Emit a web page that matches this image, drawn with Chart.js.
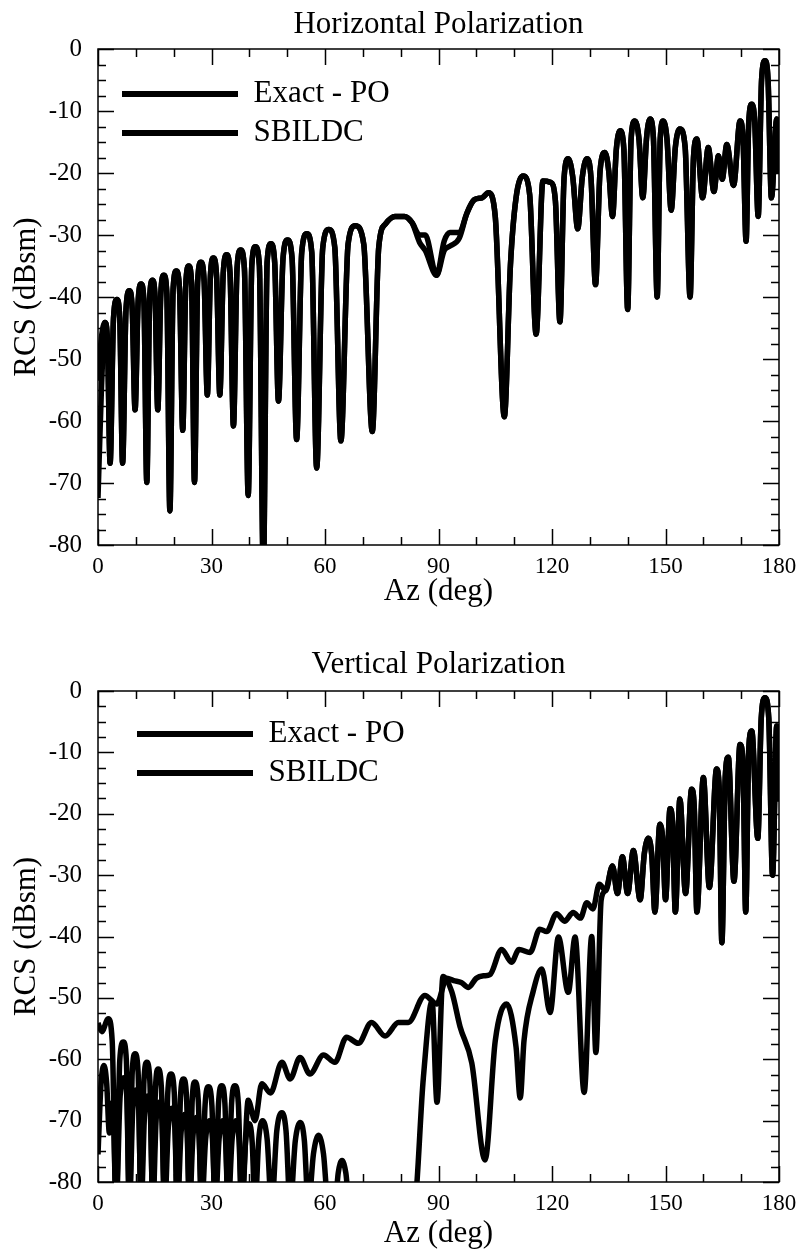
<!DOCTYPE html>
<html>
<head>
<meta charset="utf-8">
<title>RCS vs Az</title>
<script src="https://cdn.jsdelivr.net/npm/chart.js@4.4.1/dist/chart.umd.min.js"></script>
<style>
  html, body { margin: 0; padding: 0; background: #fff; }
  #wrap { position: relative; width: 800px; height: 1251px; }
  canvas { position: absolute; left: 0; }
</style>
</head>
<body>
<div id="wrap">
  <canvas id="hChart" width="800" height="620" style="top:0px"></canvas>
  <canvas id="vChart" width="800" height="612" style="top:640px"></canvas>
</div>
<script>
// ---- Horizontal polarization (both curves share the azimuth samples) ----
const hAz = [
  0, 0.9, 1.85, 2.5, 3.2, 4.1, 5.0, 5.75, 6.5, 7.4,
  8.3, 9.05, 9.8, 10.6, 11.4, 12.15, 12.9, 13.65, 14.4, 15.1,
  15.8, 16.6, 17.4, 18.2, 19.0, 19.85, 20.7, 21.55, 22.4, 23.2,
  24.0, 24.75, 25.5, 26.35, 27.2, 28.05, 28.9, 29.7, 30.5, 31.35,
  32.2, 33.1, 34.0, 34.9, 35.8, 36.75, 37.7, 38.7, 39.7, 40.65,
  41.6, 42.65, 43.7, 44.7, 45.7, 46.7, 47.7, 48.9, 50.1, 51.3,
  52.5, 53.85, 55.2, 56.5, 57.8, 59.4, 61.0, 62.6, 64.2, 66.1,
  68.0, 70.25, 72.5, 74.2, 76.0, 78.5, 81.0, 83.0, 85.0, 86.5,
  89.5, 91.5, 93.0, 95.5, 97.5, 99.5, 101.5, 103.2, 105.0, 107.4,
  109.0, 110.5, 112.4, 114.1, 115.8, 117.6, 119.6, 120.9, 122.1, 123.2,
  124.3, 125.5, 126.8, 128.0, 129.2, 130.3, 131.5, 132.7, 134.0, 135.0,
  136.0, 137.0, 138.0, 139.0, 140.0, 140.9, 141.9, 143.0, 144.0, 145.0,
  145.9, 146.8, 147.8, 148.6, 149.4, 150.4, 151.5, 152.6, 153.8, 155.2,
  156.5, 157.4, 158.3, 159.8, 161.3, 162.8, 164.0, 165.0, 166.2, 168.0,
  169.7, 170.5, 171.3, 172.0, 172.8, 173.6, 174.5, 175.4, 176.3, 177.1,
  178.0, 179.4, 180
];
const hExact = [
  -72.4, -55, -44.1, -47.0, -66.8, -43.4, -40.4, -43.4, -66.8, -42.0,
  -39.0, -42.0, -58.2, -40.9, -37.9, -40.9, -69.9, -40.3, -37.3, -40.3,
  -58.2, -39.5, -36.5, -39.5, -74.5, -38.8, -35.8, -38.8, -61.5, -38.0,
  -35.0, -38.0, -69.9, -37.4, -34.4, -37.4, -55.8, -36.7, -33.7, -36.7,
  -55.8, -36.2, -33.2, -36.2, -60.8, -35.4, -32.4, -35.4, -72.0, -34.9,
  -31.9, -34.9, -84, -34.4, -31.4, -34.4, -56.8, -33.8, -30.8, -33.8,
  -63.0, -32.8, -29.8, -32.8, -67.6, -32.1, -29.1, -32.1, -63.2, -31.5,
  -28.5, -31.5, -61.7, -32.0, -28.2, -27.0, -27.0, -28.0, -30.0, -30.0,
  -36.5, -31.0, -29.6, -29.6, -26.5, -24.3, -24.0, -23.2, -27.0, -59.3,
  -35.0, -24.0, -20.5, -23.5, -46.0, -21.3, -21.5, -24.5, -44.0, -20.7,
  -17.7, -20.7, -29.0, -20.7, -17.7, -20.7, -38.0, -19.7, -16.7, -19.7,
  -27.0, -16.2, -13.2, -16.2, -42.0, -14.6, -11.6, -14.6, -24.0, -14.3,
  -11.3, -14.3, -40.0, -14.6, -11.6, -14.6, -26.0, -15.9, -12.9, -15.9,
  -40.0, -17.5, -14.5, -24.0, -15.9, -23.0, -17.2, -21.0, -15.4, -22.0,
  -11.6, -14.6, -31.0, -11.9, -8.9, -11.9, -27.0, -4.9, -1.9, -4.9,
  -24.0, -11.3, -20.0
];
const hSbildc = [
  -53.5, -46.5, -44.1, -47.0, -66.8, -43.4, -40.4, -43.4, -66.8, -42.0,
  -39.0, -42.0, -58.2, -40.9, -37.9, -40.9, -69.9, -40.3, -37.3, -40.3,
  -58.2, -39.5, -36.5, -39.5, -74.5, -38.8, -35.8, -38.8, -61.5, -38.0,
  -35.0, -38.0, -69.9, -37.4, -34.4, -37.4, -55.8, -36.7, -33.7, -36.7,
  -55.8, -36.2, -33.2, -36.2, -60.8, -35.4, -32.4, -35.4, -72.0, -34.9,
  -31.9, -34.9, -84, -34.4, -31.4, -34.4, -56.8, -33.8, -30.8, -33.8,
  -63.0, -32.8, -29.8, -32.8, -67.6, -32.1, -29.1, -32.1, -63.2, -31.5,
  -28.5, -31.5, -61.7, -32.0, -28.2, -27.0, -27.0, -28.0, -31.2, -32.5,
  -36.5, -32.5, -31.8, -30.5, -26.5, -24.3, -24.0, -23.2, -27.0, -59.3,
  -35.0, -24.0, -20.5, -23.5, -46.0, -21.3, -21.5, -24.5, -44.0, -20.7,
  -17.7, -20.7, -29.0, -20.7, -17.7, -20.7, -38.0, -19.7, -16.7, -19.7,
  -27.0, -16.2, -13.2, -16.2, -42.0, -14.6, -11.6, -14.6, -24.0, -14.3,
  -11.3, -14.3, -40.0, -14.6, -11.6, -14.6, -26.0, -15.9, -12.9, -15.9,
  -40.0, -17.5, -14.5, -24.0, -15.9, -23.0, -17.2, -21.0, -15.4, -22.0,
  -11.6, -14.6, -31.0, -11.9, -8.9, -11.9, -27.0, -4.9, -1.9, -4.9,
  -24.0, -11.3, -20.0
];

// ---- Vertical polarization ----
const vAzExact = [
  0, 0.8, 1.6, 2.3, 3.0, 3.9, 4.8, 5.85, 6.9, 7.6,
  8.3, 9.2, 10.1, 10.75, 11.4, 12.3, 13.2, 13.85, 14.5, 15.35,
  16.2, 16.9, 17.6, 18.6, 19.6, 20.3, 21.0, 21.95, 22.9, 23.55,
  24.2, 25.1, 26.0, 26.7, 27.4, 28.45, 29.5, 30.25, 31.0, 32.0,
  33.0, 33.7, 34.4, 35.45, 36.5, 37.25, 38.0, 39.0, 40.0, 40.75,
  41.5, 42.5, 43.5, 44.7, 45.9, 47.25, 48.6, 49.7, 50.8, 52.15,
  53.5, 54.55, 55.6, 56.95, 58.3, 59.6, 60.9, 62.6, 63.5, 64.5,
  65.5, 66.5, 83.5, 86.0, 88.3, 89.6, 91.2, 93.5, 95.7, 98.8,
  102.3, 105.0, 108.0, 110.5, 111.6, 112.6, 115.0, 117.3, 119.5, 121.7,
  124.3, 126.1, 128.5, 130.5, 131.6, 133.0, 134.2, 136.0, 137.3, 138.6,
  140.0, 141.5, 143.3, 144.4, 145.5, 146.4, 147.2, 148.5, 149.3, 150.0,
  151.2, 151.9, 152.6, 153.8, 155.3, 156.9, 157.6, 158.3, 160.0, 161.6,
  163.5, 164.2, 164.9, 165.8, 166.6, 168.1, 169.7, 170.5, 171.2, 172.0,
  172.8, 174.4, 175.3, 176.3, 177.3, 178.3, 179.4, 180
];
const vExact = [
  -75.5, -64.0, -61.0, -64.0, -72.0, -67.0, -84, -66.0, -63.0, -66.0,
  -84, -68.0, -65.0, -68.0, -84, -69.0, -66.0, -69.0, -84, -70.0,
  -67.0, -70.0, -84, -71.0, -68.0, -71.0, -84, -72.0, -69.0, -72.0,
  -84, -72.5, -69.5, -72.5, -84, -73.0, -70.0, -73.0, -84, -73.0,
  -70.0, -73.0, -84, -73.0, -70.0, -73.0, -84, -73.5, -70.5, -73.5,
  -84, -73.0, -70.0, -73.0, -84, -71.7, -68.7, -71.7, -84, -73.3,
  -70.3, -73.3, -84, -75.4, -72.4, -75.4, -84, -84, -78.5, -76.5,
  -78.5, -84, -84, -63.0, -50.5, -67.0, -46.5, -49.0, -54.7, -60.6,
  -76.4, -57.0, -51.0, -58.0, -66.3, -57.0, -49.0, -45.3, -52.4, -40.1,
  -49.1, -40.1, -65.4, -40.0, -58.9, -34.0, -32.5, -28.5, -33.0, -27.0,
  -33.0, -26.0, -34.0, -26.5, -24.0, -27.0, -36.0, -21.7, -24.5, -34.0,
  -19.2, -22.0, -36.0, -17.6, -33.0, -16.0, -19.0, -36.0, -14.1, -32.0,
  -12.7, -16.0, -41.0, -14.0, -10.8, -31.0, -8.7, -12.0, -36.0, -9.5,
  -6.5, -24.0, -4.5, -1.1, -4.5, -30.0, -5.7, -18.0
];
const vAzSbildc = [
  0, 1.0, 2.7, 3.75, 4.8, 5.75, 6.7, 7.5, 8.3, 9.05,
  9.8, 10.6, 11.4, 12.15, 12.9, 13.7, 14.5, 15.2, 15.9, 16.75,
  17.6, 18.45, 19.3, 20.15, 21.0, 21.8, 22.6, 23.4, 24.2, 24.9,
  25.6, 26.5, 27.4, 28.3, 29.2, 30.1, 31.0, 31.85, 32.7, 33.55,
  34.4, 35.3, 36.2, 37.1, 38.0, 39.7, 41.5, 43.3, 45.6, 48.6,
  50.8, 53.4, 56.0, 59.6, 62.6, 65.7, 68.8, 72.3, 75.9, 79.4,
  82.0, 86.4, 89.5, 92.2, 94.0, 96.0, 97.9, 100.0, 101.9, 103.6,
  106.7, 109.3, 111.3, 114.2, 116.8, 118.6, 121.2, 123.3, 125.6, 127.5,
  129.2, 130.8, 132.5, 134.2, 136.0, 137.3, 138.6, 140.0, 141.5, 143.3,
  144.4, 145.5, 146.4, 147.2, 148.5, 149.3, 150.0, 151.2, 151.9, 152.6,
  153.8, 155.3, 156.9, 157.6, 158.3, 160.0, 161.6, 163.5, 164.2, 164.9,
  165.8, 166.6, 168.1, 169.7, 170.5, 171.2, 172.0, 172.8, 174.4, 175.3,
  176.3, 177.3, 178.3, 179.4, 180
];
const vSbildc = [
  -54.1, -55.5, -53.4, -57.0, -84, -60.2, -57.2, -60.2, -84, -62.1,
  -59.1, -62.1, -84, -63.5, -60.5, -63.5, -84, -64.6, -61.6, -64.6,
  -84, -65.4, -62.4, -65.4, -84, -66.2, -63.2, -66.2, -84, -66.7,
  -63.7, -66.7, -84, -67.5, -64.5, -67.5, -84, -67.3, -64.3, -67.3,
  -84, -67.3, -64.3, -67.3, -84, -66.7, -70.0, -64.0, -65.5, -60.5,
  -63.2, -59.7, -62.4, -59.3, -60.5, -56.4, -57.4, -54.0, -56.2, -54.0,
  -54.0, -49.6, -51.0, -46.8, -47.2, -47.5, -48.3, -46.8, -46.4, -46.2,
  -42.1, -44.2, -42.1, -42.6, -38.8, -39.2, -36.3, -37.5, -36.1, -37.0,
  -34.5, -35.5, -31.5, -32.5, -28.5, -33.0, -27.0, -33.0, -26.0, -34.0,
  -26.5, -24.0, -27.0, -36.0, -21.7, -24.5, -34.0, -19.2, -22.0, -36.0,
  -17.6, -33.0, -16.0, -19.0, -36.0, -14.1, -32.0, -12.7, -16.0, -41.0,
  -14.0, -10.8, -31.0, -8.7, -12.0, -36.0, -9.5, -6.5, -24.0, -4.5,
  -1.1, -4.5, -30.0, -5.7, -18.0
];

const azTicks = [0, 30, 60, 90, 120, 150, 180];
const rcsTicks = [-80, -70, -60, -50, -40, -30, -20, -10, 0];

const SERIF = "'Liberation Serif', 'Times New Roman', serif";

function toPoints(xs, ys) {
  return xs.map((x, i) => ({ x: x, y: ys[i] }));
}

// frame + inward tick marks on all four sides
const frameTicks = {
  id: 'frameTicks',
  afterDatasetsDraw(chart) {
    const { ctx, chartArea: a, scales: { x, y } } = chart;
    ctx.save();
    ctx.strokeStyle = '#000';
    ctx.lineWidth = 1.5;
    ctx.strokeRect(a.left, a.top, a.right - a.left, a.bottom - a.top);
    ctx.beginPath();
    for (let v = 0; v <= 180; v += 10) {
      const px = Math.round(x.getPixelForValue(v)) + 0.5;
      const len = v % 30 === 0 ? 16 : 8;
      ctx.moveTo(px, a.bottom); ctx.lineTo(px, a.bottom - len);
      ctx.moveTo(px, a.top); ctx.lineTo(px, a.top + len);
    }
    for (let v = -80; v <= 0; v += 2.5) {
      const py = Math.round(y.getPixelForValue(v)) + 0.5;
      const len = v % 10 === 0 ? 16 : 8;
      ctx.moveTo(a.left, py); ctx.lineTo(a.left + len, py);
      ctx.moveTo(a.right, py); ctx.lineTo(a.right - len, py);
    }
    ctx.stroke();
    ctx.restore();
  }
};

// put the legend where it sits in the figure
const legendSpot = {
  id: 'legendSpot',
  afterLayout(chart, args, opts) {
    if (!chart.legend) return;
    chart.legend.left = opts.left;
    chart.legend.top = opts.top;
  }
};

function makeChart(id, title, series, layout) {
  const ctx = document.getElementById(id).getContext('2d');
  return new Chart(ctx, {
    type: 'line',
    data: {
      datasets: series.map(s => ({
        label: s.label,
        data: toPoints(s.az, s.db),
        borderColor: '#000',
        backgroundColor: '#000',
        borderWidth: 5.5,
        pointRadius: 0,
        fill: false,
        cubicInterpolationMode: 'monotone',
        borderJoinStyle: 'round',
        clip: 0
      }))
    },
    options: {
      responsive: false,
      animation: false,
      events: [],
      layout: { padding: { left: 0, right: 21, top: 0, bottom: 0 } },
      scales: {
        x: {
          type: 'linear',
          min: 0, max: 180,
          afterBuildTicks: s => { s.ticks = azTicks.map(v => ({ value: v })); },
          afterFit: s => { s.height = layout.xHeight; },
          grid: { display: false },
          border: { display: false },
          ticks: { color: '#000', font: { family: SERIF, size: 23 }, padding: 0, maxRotation: 0 },
          title: {
            display: true, text: 'Az (deg)', color: '#000',
            font: { family: SERIF, size: 31 },
            padding: { top: 0, bottom: layout.xTitlePad }
          }
        },
        y: {
          type: 'linear',
          min: -80, max: 0,
          afterBuildTicks: s => { s.ticks = rcsTicks.map(v => ({ value: v })); },
          afterFit: s => { s.width = 98; },
          grid: { display: false },
          border: { display: false },
          ticks: { color: '#000', font: { family: SERIF, size: 25 }, padding: 8 },
          title: {
            display: true, text: 'RCS (dBsm)', color: '#000',
            font: { family: SERIF, size: 31 },
            padding: { top: 8, bottom: 0 }
          }
        }
      },
      plugins: {
        title: {
          display: true, text: title, color: '#000', fullSize: false,
          font: { family: SERIF, size: 31, weight: 'normal' },
          padding: { top: 6.4, bottom: layout.titleBottom }
        },
        legend: {
          position: 'chartArea',
          align: 'start',
          labels: {
            boxWidth: 116, boxHeight: 6, padding: 8, color: '#000',
            font: { family: SERIF, size: 31 },
            generateLabels: c => c.data.datasets.map((d, i) => ({
              text: d.label, fillStyle: '#000', strokeStyle: '#000',
              lineWidth: 0, hidden: false, datasetIndex: i
            }))
          }
        },
        legendSpot: { left: layout.legendLeft, top: layout.legendTop },
        tooltip: { enabled: false }
      }
    },
    plugins: [frameTicks, legendSpot]
  });
}

makeChart('hChart', 'Horizontal Polarization', [
  { label: 'Exact - PO', az: hAz, db: hExact },
  { label: 'SBILDC', az: hAz, db: hSbildc }
], { xHeight: 75, xTitlePad: 10, titleBottom: 5.4, legendLeft: 114, legendTop: 70.5 });

makeChart('vChart', 'Vertical Polarization', [
  { label: 'Exact - PO', az: vAzExact, db: vExact },
  { label: 'SBILDC', az: vAzSbildc, db: vSbildc }
], { xHeight: 70, xTitlePad: 0, titleBottom: 7.4, legendLeft: 129, legendTop: 70.5 });
</script>
</body>
</html>
